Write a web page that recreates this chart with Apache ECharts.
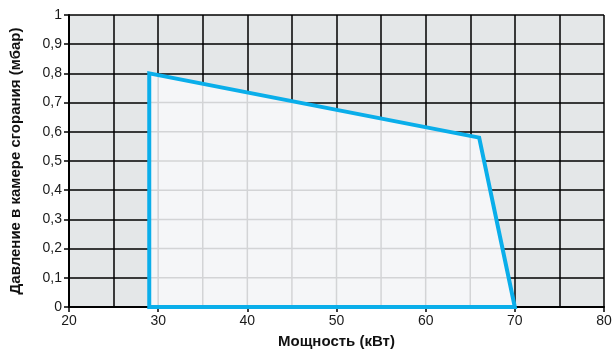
<!DOCTYPE html>
<html><head><meta charset="utf-8">
<script src="https://cdn.jsdelivr.net/npm/echarts@6/dist/echarts.min.js"></script>
<style>html,body{margin:0;padding:0;background:#fff}#c{width:615px;height:354px}</style>
</head><body><div id="c"></div>
<script>
const xTitle = 'Мощность (кВт)';
const yTitle = 'Давление в камере сгорания (мбар)';
const polyX = [29, 29, 66, 70];
const polyY = [0, 0.8, 0.58, 0];
const xGridVals = [30, 35, 40, 45, 50, 55, 60, 65, 70];
const yGridVals = [0.1, 0.2, 0.3, 0.4, 0.5, 0.6, 0.7, 0.8];

function topAt(x) {
  for (let i = 1; i < 3; i++) {
    const x0 = polyX[i], x1 = polyX[i+1];
    if (x >= x0 && x <= x1) {
      return polyY[i] + (polyY[i+1] - polyY[i]) * (x - x0) / (x1 - x0);
    }
  }
  return 0;
}
function rightAt(y) {
  for (let i = 1; i < 3; i++) {
    const ya = polyY[i], yb = polyY[i+1];
    const lo = Math.min(ya, yb), hi = Math.max(ya, yb);
    if (y >= lo && y <= hi && ya !== yb) {
      return polyX[i] + (polyX[i+1] - polyX[i]) * (y - ya) / (yb - ya);
    }
  }
  return polyX[0];
}

const chart = echarts.init(document.getElementById('c'), null, {renderer: 'canvas'});
const lineCol = '#000';
const font = 'Liberation Sans, Arial, sans-serif';
chart.setOption({
  animation: false,
  grid: {left: 69, right: 11, top: 15, bottom: 47, show: true, backgroundColor: '#e4e7e8', borderWidth: 0,
         containLabel: false, outerBoundsMode: 'none'},
  xAxis: {
    type: 'value', min: 20, max: 80, interval: 10,
    name: xTitle, nameLocation: 'middle', nameGap: 27,
    nameTextStyle: {fontFamily: font, fontWeight: 'bold', fontSize: 15, color: '#111'},
    axisLine: {show: true, lineStyle: {color: lineCol, width: 2}},
    axisTick: {show: true, length: 5, lineStyle: {color: lineCol, width: 1.5}},
    axisLabel: {fontFamily: font, fontSize: 14, color: '#1a1a1a', margin: 7},
    splitLine: {show: true, lineStyle: {color: lineCol, width: 1.5}},
    minorTick: {show: false, splitNumber: 2},
    minorSplitLine: {show: true, lineStyle: {color: lineCol, width: 1.5}}
  },
  yAxis: {
    type: 'value', min: 0, max: 1, interval: 0.1,
    name: yTitle, nameLocation: 'middle', nameGap: 46, nameRotate: 90,
    nameTextStyle: {fontFamily: font, fontWeight: 'bold', fontSize: 15, color: '#111'},
    axisLine: {show: true, lineStyle: {color: lineCol, width: 2}},
    axisTick: {show: true, length: 5, lineStyle: {color: lineCol, width: 1.5}},
    axisLabel: {fontFamily: font, fontSize: 14, color: '#1a1a1a', margin: 7,
      formatter: v => String(Math.round(v * 10) / 10).replace('.', ',')},
    splitLine: {show: true, lineStyle: {color: lineCol, width: 1.5}}
  },
  series: [{
    type: 'custom',
    coordinateSystem: 'cartesian2d',
    data: [[polyX[0], polyY[0]]],
    clip: false,
    renderItem: function (params, api) {
      const pts = polyX.map((x, i) => api.coord([x, polyY[i]]));
      const children = [];
      children.push({type: 'polygon', shape: {points: pts}, style: {fill: '#f5f6f8'}});
      xGridVals.forEach(x => {
        if (x > polyX[0] && x < polyX[3]) {
          const a = api.coord([x, 0]), b = api.coord([x, topAt(x)]);
          children.push({type: 'line', shape: {x1: a[0], y1: a[1], x2: b[0], y2: b[1]}, style: {stroke: '#d3d4d6', lineWidth: 1.5}});
        }
      });
      yGridVals.forEach(y => {
        if (y < polyY[1]) {
          const a = api.coord([polyX[0], y]), b = api.coord([rightAt(y), y]);
          children.push({type: 'line', shape: {x1: a[0], y1: a[1], x2: b[0], y2: b[1]}, style: {stroke: '#d3d4d6', lineWidth: 1.5}});
        }
      });
      children.push({type: 'polygon', shape: {points: pts}, style: {fill: null, stroke: '#0aaeea', lineWidth: 4, lineJoin: 'miter'}});
      return {type: 'group', children: children};
    }
  }]
});
</script></body></html>
